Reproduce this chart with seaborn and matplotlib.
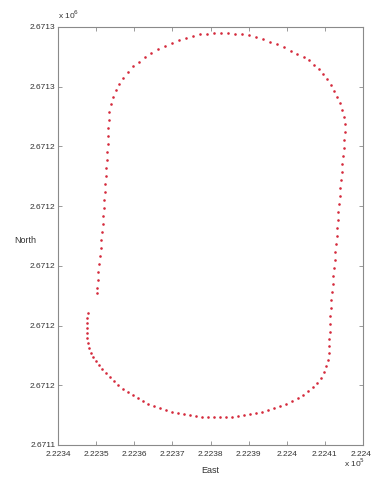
import matplotlib
matplotlib.use("Agg")
import matplotlib.pyplot as plt
import numpy as np
import pandas as pd
import seaborn as sns
from matplotlib.ticker import FuncFormatter

# Trajectoire (mètres)
east = [
    222347.9, 222347.7, 222347.6, 222347.6, 222347.6, 222347.7, 222347.9, 222348.1,
    222348.7, 222349.2, 222350.0, 222350.8, 222351.5, 222352.6, 222353.6, 222354.7,
    222355.7, 222357.0, 222358.4, 222359.7, 222361.0, 222362.3, 222363.6, 222365.2,
    222366.8, 222368.3, 222369.9, 222371.5, 222373.0, 222374.6, 222376.2, 222377.8,
    222379.3, 222380.9, 222382.5, 222384.1, 222385.6, 222387.2, 222388.8, 222390.4,
    222391.9, 222393.5, 222395.1, 222396.7, 222398.2, 222399.8, 222401.4, 222403.0,
    222404.3, 222405.6, 222406.9, 222407.9, 222409.0, 222409.8, 222410.3, 222410.7,
    222411.0, 222411.1, 222411.2, 222411.3, 222411.4, 222411.4, 222411.6, 222411.7,
    222411.9, 222412.1, 222412.2, 222412.4, 222412.6, 222412.7, 222412.9, 222413.1,
    222413.2, 222413.4, 222413.5, 222413.7, 222413.9, 222414.0, 222414.2, 222414.4,
    222414.5, 222414.7, 222414.9, 222415.0, 222415.2, 222415.3, 222415.1, 222414.6,
    222414.0, 222413.3, 222412.5, 222411.6, 222410.6, 222409.5, 222408.5, 222407.1,
    222405.8, 222404.4, 222402.8, 222401.1, 222399.3, 222397.4, 222395.6, 222393.8,
    222391.9, 222390.1, 222388.3, 222386.4, 222384.6, 222382.8, 222380.9, 222379.1,
    222377.2, 222375.4, 222373.6, 222371.7, 222369.9, 222368.1, 222366.2, 222364.4,
    222362.8, 222361.2, 222359.8, 222358.4, 222357.0, 222356.0, 222355.1, 222354.3,
    222353.8, 222353.4, 222353.3, 222353.2, 222353.1, 222353.0, 222352.9, 222352.8,
    222352.7, 222352.5, 222352.4, 222352.3, 222352.1, 222352.0, 222351.9, 222351.7,
    222351.5, 222351.4, 222351.2, 222351.0, 222350.8, 222350.6, 222350.5, 222350.3,
    222350.2,
]
north = [
    2671184.2, 2671182.5, 2671180.9, 2671179.2, 2671177.5, 2671175.8, 2671174.2, 2671172.5,
    2671170.8, 2671169.5, 2671168.1, 2671166.8, 2671165.5, 2671164.1, 2671162.8, 2671161.4,
    2671160.1, 2671158.8, 2671157.8, 2671156.7, 2671155.7, 2671154.7, 2671153.7, 2671153.1,
    2671152.4, 2671151.7, 2671151.1, 2671150.7, 2671150.4, 2671150.0, 2671149.7, 2671149.5,
    2671149.4, 2671149.4, 2671149.4, 2671149.4, 2671149.5, 2671149.7, 2671150.0, 2671150.4,
    2671150.7, 2671151.2, 2671151.7, 2671152.4, 2671153.1, 2671153.7, 2671154.7, 2671155.7,
    2671156.7, 2671158.1, 2671159.4, 2671160.8, 2671162.4, 2671164.5, 2671166.5, 2671168.5,
    2671170.8, 2671173.2, 2671175.5, 2671177.8, 2671180.5, 2671183.2, 2671185.9, 2671188.6,
    2671191.2, 2671193.9, 2671196.6, 2671199.3, 2671202.0, 2671204.6, 2671207.3, 2671210.0,
    2671212.7, 2671215.4, 2671218.0, 2671220.7, 2671223.4, 2671226.1, 2671228.8, 2671231.4,
    2671234.1, 2671236.8, 2671239.5, 2671242.2, 2671244.8, 2671247.5, 2671249.9, 2671252.2,
    2671254.5, 2671256.6, 2671258.6, 2671260.6, 2671262.6, 2671264.3, 2671265.9, 2671267.4,
    2671268.8, 2671270.0, 2671271.1, 2671272.1, 2671273.3, 2671274.3, 2671275.1, 2671276.0,
    2671276.7, 2671277.2, 2671277.5, 2671277.8, 2671278.0, 2671278.0, 2671278.0, 2671277.8,
    2671277.5, 2671277.0, 2671276.3, 2671275.5, 2671274.6, 2671273.6, 2671272.5, 2671271.3,
    2671270.0, 2671268.4, 2671266.8, 2671264.9, 2671262.9, 2671260.9, 2671258.9, 2671256.6,
    2671254.2, 2671251.5, 2671248.9, 2671246.2, 2671243.5, 2671240.8, 2671238.1, 2671235.5,
    2671232.8, 2671230.1, 2671227.4, 2671224.7, 2671222.1, 2671219.4, 2671216.7, 2671214.0,
    2671211.3, 2671208.7, 2671206.0, 2671203.3, 2671200.6, 2671197.9, 2671195.3, 2671192.6,
    2671190.9,
]

x_ticks = [222340, 222350, 222360, 222370, 222380, 222390, 222400, 222410, 222420]
y_ticks = [2671140, 2671160, 2671180, 2671200, 2671220, 2671240, 2671260, 2671280]

sns.set_style("white")
plt.rcParams['font.family'] = ['Liberation Sans Narrow', 'Liberation Sans', 'DejaVu Sans']

df = pd.DataFrame({"East": east, "North": north})

fig = plt.figure(figsize=(3.71, 4.83), dpi=100)
ax = fig.add_axes([58 / 371, 38 / 483, 305 / 371, 418 / 483])

sns.scatterplot(data=df, x="East", y="North", ax=ax, color="#d42a3c",
                s=3.5, linewidth=0, marker="o")

ax.set_xlim(x_ticks[0], x_ticks[-1])
ax.set_ylim(y_ticks[0], y_ticks[-1])
ax.set_xticks(x_ticks)
ax.set_yticks(y_ticks)
ax.xaxis.set_major_formatter(FuncFormatter(lambda v, p: f"{v / 1e5:.5g}"))
ax.yaxis.set_major_formatter(FuncFormatter(lambda v, p: f"{v / 1e6:.4f}"))

# Style MATLAB : boîte, graduations vers l'intérieur
for s in ax.spines.values():
    s.set_visible(True)
    s.set_color("#8a8a8a")
    s.set_linewidth(0.8)
ax.tick_params(direction="in", length=3, width=0.6, color="#8a8a8a",
               labelsize=6, labelcolor="#333333", top=True, right=True,
               bottom=True, left=True, pad=2)
ax.tick_params(axis="x", pad=4)

ax.set_xlabel("East", fontsize=6.5, color="#333333", labelpad=6)
ax.set_ylabel("")
fig.text(14 / 371, 1 - 240 / 483, "North", fontsize=6.5, color="#333333", va="center")

fig.text(344 / 371, 1 - 463 / 483, r"x 10$^5$", fontsize=6, color="#333333", va="center")
fig.text(58 / 371, 1 - 15 / 483, r"x 10$^6$", fontsize=6, color="#333333", va="center")

fig.savefig("out.png", dpi=100)
